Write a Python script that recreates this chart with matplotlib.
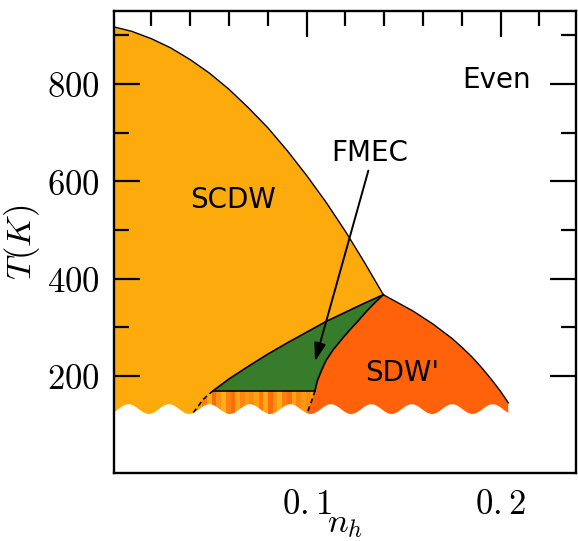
import numpy as np
import matplotlib
matplotlib.use('Agg')
import matplotlib.pyplot as plt
from matplotlib.patches import Polygon
from matplotlib.colors import ListedColormap

plt.rcParams['mathtext.fontset'] = 'cm'

# phase boundaries (n_h, T in K)
scdw_n = [0.0, 0.01, 0.02, 0.03, 0.04, 0.05, 0.06, 0.07, 0.08, 0.09, 0.10, 0.11, 0.12, 0.13, 0.1395]
scdw_T = [918, 908, 893, 874, 850, 822, 789, 751, 710, 663, 612, 557, 497, 432, 367]

fmec_top_n = [0.0519, 0.06, 0.07, 0.08, 0.09, 0.10, 0.11, 0.12, 0.13, 0.1395]
fmec_top_T = [170, 194, 220, 245, 268, 290, 312, 331, 350, 367]
fmec_bottom_T = 170

sdw_left_n = [0.1043, 0.1055, 0.1075, 0.1100, 0.1137, 0.1180, 0.1223, 0.1265, 0.1309, 0.1350, 0.1395]
sdw_left_T = [170, 190, 210, 232, 254, 275, 295, 313, 333, 350, 367]

sdw_right_n = [0.1395, 0.145, 0.15, 0.155, 0.16, 0.165, 0.17, 0.175, 0.18, 0.185, 0.19, 0.195, 0.2, 0.2039]
sdw_right_T = [367, 355, 344, 333, 320, 307, 292, 277, 259, 240, 218, 194, 168, 145]

# coexistence edges below the FMEC region (dashed)
dash_left_n = [0.0519, 0.0492, 0.0467, 0.0441, 0.0415]
dash_left_T = [170, 161, 152, 138, 124]
dash_right_n = [0.1043, 0.1024, 0.1003]
dash_right_T = [170, 147, 124]

yticks = [200, 400, 600, 800]
ytick_labels = ['$200$', '$400$', '$600$', '$800$']
yminor = [100, 300, 500, 700, 900]
xticks = [0.1, 0.2]
xtick_labels = ['$0.{}1$', '$0.{}2$']
xminor = [0.02, 0.04, 0.06, 0.08, 0.12, 0.14, 0.16, 0.18, 0.22]

c_scdw = '#fdab0c'
c_sdw = '#ff620a'
c_fmec = '#377c2a'
stripe_cols = ['#ff8c12', '#ffa010', '#ff7a0a', '#fdae10', '#ff6a0a', '#ff9412',
               '#ffb014', '#ff8010', '#ff6c0a', '#ffa412', '#ff860e', '#fd9a10']

fig = plt.figure(figsize=(5.78, 5.41), dpi=100)
ax = fig.add_axes([0.1972, 0.1251, 0.7993, 0.8546])
ax.set_xlim(0.0007, 0.2388)
ax.set_ylim(0, 950)

# SCDW dome
ax.fill_between(scdw_n, 0, scdw_T, color=c_scdw, lw=0, zorder=1)

# FMEC pocket
green = list(zip(fmec_top_n, fmec_top_T)) + list(zip(sdw_left_n[::-1], sdw_left_T[::-1]))
ax.add_patch(Polygon(green, closed=True, fc=c_fmec, ec='none', zorder=2))

# SDW' dome
sdw = (list(zip(sdw_right_n, sdw_right_T)) + [(sdw_right_n[-1], 0), (dash_right_n[-1], 0)]
       + list(zip(dash_right_n[::-1], dash_right_T[::-1])) + list(zip(sdw_left_n, sdw_left_T)))
ax.add_patch(Polygon(sdw, closed=True, fc=c_sdw, ec='none', zorder=2))

# striped coexistence region
mix = (list(zip(dash_right_n, dash_right_T)) + [(dash_right_n[-1], 0), (dash_left_n[-1], 0)]
       + list(zip(dash_left_n[::-1], dash_left_T[::-1])))
mix_patch = Polygon(mix, closed=True, fc='none', ec='none')
ax.add_patch(mix_patch)
nstripe = 26
img = ax.imshow(np.arange(nstripe).reshape(1, -1) % len(stripe_cols),
                cmap=ListedColormap(stripe_cols), vmin=0, vmax=len(stripe_cols) - 1,
                extent=(dash_left_n[-1], dash_right_n[0], 0, fmec_bottom_T),
                aspect='auto', interpolation='nearest', zorder=2)
img.set_clip_path(mix_patch)

ax.plot(dash_left_n, dash_left_T, color='black', lw=1.2, ls=(0, (3, 2)), zorder=3)
ax.plot(dash_right_n, dash_right_T, color='black', lw=1.2, ls=(0, (3, 2)), zorder=3)

# broken axis: wavy cut
wn = np.linspace(0, 0.24, 600)
wT = 133 - 10 * np.cos(2 * np.pi * (wn - 0.0184) / 0.02085)
ax.fill_between(wn, -10, wT, color='white', lw=0, zorder=4)

# boundary lines
ax.plot(scdw_n, scdw_T, color='black', lw=1.0, zorder=5)
ax.plot(fmec_top_n, fmec_top_T, color='black', lw=1.2, zorder=5)
ax.plot(sdw_left_n, sdw_left_T, color='black', lw=1.2, zorder=5)
ax.plot(sdw_right_n, sdw_right_T, color='black', lw=1.0, zorder=5)
ax.plot([fmec_top_n[0], sdw_left_n[0]], [fmec_bottom_T, fmec_bottom_T], color='black', lw=1.2, zorder=5)

# labels
ax.text(0.0622, 561, 'SCDW', fontsize=20, ha='center', va='center', zorder=6)
ax.text(0.1494, 207, "SDW'", fontsize=20, ha='center', va='center', zorder=6)
ax.text(0.198, 809, 'Even', fontsize=20, ha='center', va='center', zorder=6)
ax.text(0.1324, 658, 'FMEC', fontsize=20, ha='center', va='center', zorder=6)
ax.annotate('', xy=(0.1043, 230), xytext=(0.1318, 622), zorder=6,
            arrowprops=dict(arrowstyle='-|>,head_length=1.1,head_width=0.35',
                            color='black', lw=1.4, shrinkA=0, shrinkB=0))

ax.set_xticks(xticks, xtick_labels)
ax.set_xticks(xminor, minor=True)
ax.set_yticks(yticks, ytick_labels)
ax.set_yticks(yminor, minor=True)
ax.tick_params(which='both', direction='in', top=True, right=True, width=1.6,
               labelsize=25, pad=10)
ax.tick_params(which='major', length=19)
ax.tick_params(which='minor', length=11)
for s in ax.spines.values():
    s.set_linewidth(1.7)
    s.set_zorder(10)

ax.set_xlabel('$n_h$', fontsize=25, labelpad=-11)
ax.set_ylabel('$T(K)$', fontsize=25, labelpad=4)

fig.savefig('out.png', dpi=100)
